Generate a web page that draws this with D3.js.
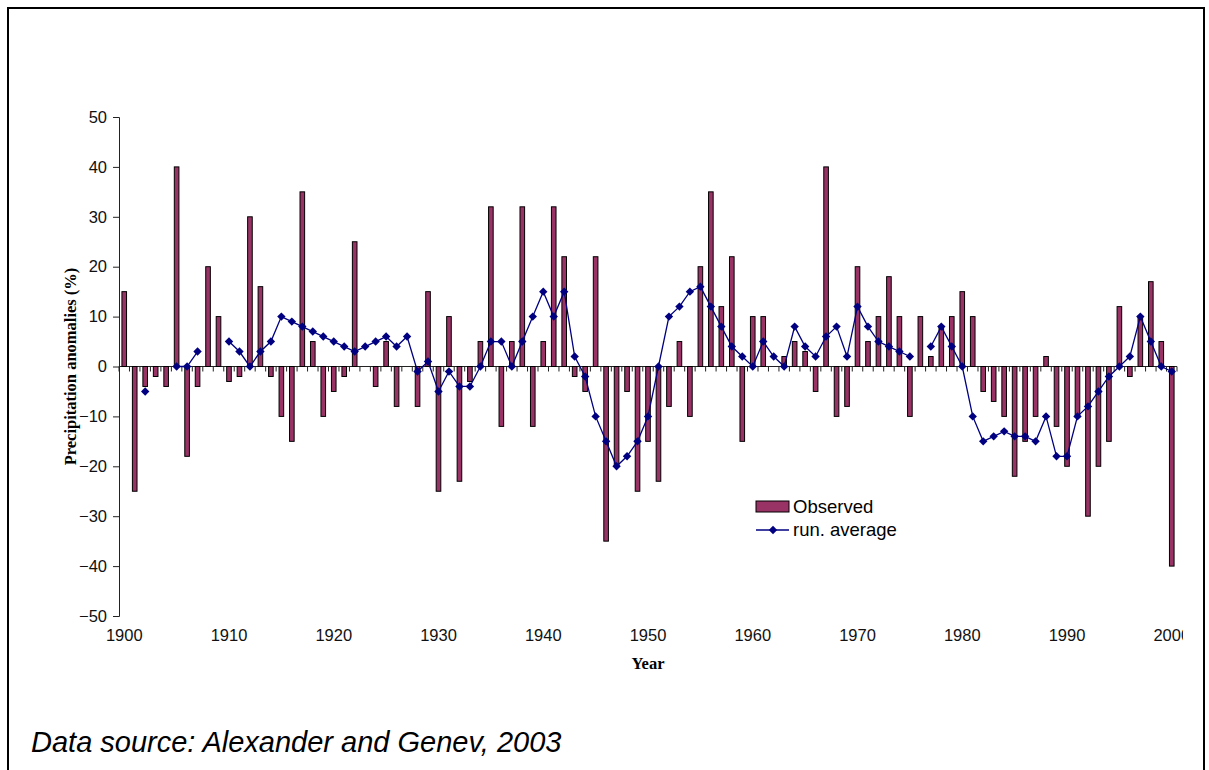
<!DOCTYPE html>
<html>
<head>
<meta charset="utf-8">
<script src="https://cdn.jsdelivr.net/npm/d3@7"></script>
<style>
  body { margin: 0; background: #fff; }
  svg { display: block; }
</style>
</head>
<body>
<script>
let years = d3.range(1900, 2001)

let observed = [
    15, -25, -4, -2, -4, 40, -18, -4, 20, 10,
    -3, -2, 30, 16, -2, -10, -15, 35, 5, -10,
    -5, -2, 25, 0, -4, 5, -8, 0, -8, 15,
    -25, 10, -23, -3, 5, 32, -12, 5, 32, -12,
    5, 32, 22, -2, -5, 22, -35, -20, -5, -25,
    -15, -23, -8, 5, -10, 20, 35, 12, 22, -15,
    10, 10, 0, 2, 5, 3, -5, 40, -10, -8,
    20, 5, 10, 18, 10, -10, 10, 2, 8, 10,
    15, 10, -5, -7, -10, -22, -15, -10, 2, -12,
    -20, -10, -30, -20, -15, 12, -2, 10, 17, 5,
    -40
]

let runAverage = [
    null, null, -5, null, null, 0, 0, 3, null, null,
    5, 3, 0, 3, 5, 10, 9, 8, 7, 6,
    5, 4, 3, 4, 5, 6, 4, 6, -1, 1,
    -5, -1, -4, -4, 0, 5, 5, 0, 5, 10,
    15, 10, 15, 2, -2, -10, -15, -20, -18, -15,
    -10, 0, 10, 12, 15, 16, 12, 8, 4, 2,
    0, 5, 2, 0, 8, 4, 2, 6, 8, 2,
    12, 8, 5, 4, 3, 2, null, 4, 8, 4,
    0, -10, -15, -14, -13, -14, -14, -15, -10, -18,
    -18, -10, -8, -5, -2, 0, 2, 10, 5, 0,
    -1
]

let yTicks = [-50, -40, -30, -20, -10, 0, 10, 20, 30, 40, 50]
let xLabels = [1900, 1910, 1920, 1930, 1940, 1950, 1960, 1970, 1980, 1990, 2000]
let seriesNames = ['Observed', 'run. average']

let width = 1209, height = 770
let barColor = '#993366', lineColor = '#000080'
let sans = 'Arial, "Liberation Sans", sans-serif'
let serif = '"Times New Roman", "Liberation Serif", serif'

let svg = d3.select('body').append('svg')
    .attr('width', width)
    .attr('height', height)

// outer chart frame (bottom edge runs off the page)
svg.append('rect')
    .attr('x', 8)
    .attr('y', 8)
    .attr('width', 1196)
    .attr('height', 800)
    .attr('fill', 'none')
    .attr('stroke', 'black')
    .attr('stroke-width', 2)

let x = d3.scaleBand().domain(years).range([119, 1177]).padding(0)
let y = d3.scaleLinear().domain([-50, 50]).range([616, 117])
let barW = x.bandwidth() * 0.44
let xc = d => x(d) + x.bandwidth() / 2

// y axis
let yAxis = svg.append('g')
    .attr('transform', 'translate(' + x.range()[0] + ',0)')
    .call(d3.axisLeft(y).tickValues(yTicks).tickSize(6).tickPadding(6))
yAxis.select('.domain').attr('stroke', '#222')
yAxis.selectAll('.tick line').attr('stroke', '#222')
yAxis.selectAll('text')
    .attr('font-family', sans)
    .attr('font-size', '16.5px')
    .attr('fill', '#111')

// category axis along zero, small ticks at category boundaries
let zeroY = y(0)
let axisG = svg.append('g')
axisG.append('line')
    .attr('x1', x.range()[0])
    .attr('x2', x.range()[1])
    .attr('y1', zeroY)
    .attr('y2', zeroY)
    .attr('stroke', '#222')
axisG.selectAll('.xtick')
    .data(years.concat([2001]))
    .enter().append('line')
    .attr('class', 'xtick')
    .attr('x1', d => d === 2001 ? x.range()[1] : x(d))
    .attr('x2', d => d === 2001 ? x.range()[1] : x(d))
    .attr('y1', zeroY)
    .attr('y2', zeroY + 5)
    .attr('stroke', '#222')

// year labels at the bottom, clipped at the plot edge like the original
svg.append('clipPath').attr('id', 'labelclip')
    .append('rect').attr('x', 0).attr('y', 600).attr('width', 1183).attr('height', 60)
svg.append('g')
    .attr('clip-path', 'url(#labelclip)')
    .selectAll('text')
    .data(xLabels)
    .enter().append('text')
    .attr('x', d => xc(d))
    .attr('y', 641)
    .attr('text-anchor', 'middle')
    .attr('font-family', sans)
    .attr('font-size', '16.5px')
    .attr('fill', '#111')
    .text(d => d)

// bars
svg.append('g').selectAll('rect')
    .data(years.map((yr, i) => ({year: yr, v: observed[i]})))
    .enter().append('rect')
    .attr('x', d => xc(d.year) - barW / 2)
    .attr('y', d => y(Math.max(0, d.v)))
    .attr('width', barW)
    .attr('height', d => Math.abs(y(d.v) - y(0)))
    .attr('fill', barColor)
    .attr('stroke', 'black')
    .attr('stroke-width', 1)

// running average line with gaps
let avgData = years.map((yr, i) => ({year: yr, v: runAverage[i]}))
let line = d3.line()
    .defined(d => d.v !== null)
    .x(d => xc(d.year))
    .y(d => y(d.v))
svg.append('path')
    .datum(avgData)
    .attr('d', line)
    .attr('fill', 'none')
    .attr('stroke', lineColor)
    .attr('stroke-width', 1.3)

let diamond = 'M0,-4.2L4.2,0L0,4.2L-4.2,0Z'
svg.append('g').selectAll('path')
    .data(avgData.filter(d => d.v !== null))
    .enter().append('path')
    .attr('d', diamond)
    .attr('transform', d => 'translate(' + xc(d.year) + ',' + y(d.v) + ')')
    .attr('fill', lineColor)

// axis titles
svg.append('text')
    .attr('transform', 'translate(76,' + zeroY + ') rotate(-90)')
    .attr('text-anchor', 'middle')
    .attr('font-family', serif)
    .attr('font-weight', 'bold')
    .attr('font-size', '16.5px')
    .text('Precipitation anomalies (%)')

svg.append('text')
    .attr('x', 648)
    .attr('y', 669)
    .attr('text-anchor', 'middle')
    .attr('font-family', serif)
    .attr('font-weight', 'bold')
    .attr('font-size', '16.5px')
    .text('Year')

// legend
let legend = svg.append('g').attr('transform', 'translate(756,0)')
legend.append('rect')
    .attr('x', 0).attr('y', 501)
    .attr('width', 33).attr('height', 11)
    .attr('fill', barColor)
    .attr('stroke', 'black')
legend.append('line')
    .attr('x1', 0).attr('x2', 33)
    .attr('y1', 530).attr('y2', 530)
    .attr('stroke', lineColor)
    .attr('stroke-width', 1.3)
legend.append('path')
    .attr('d', diamond)
    .attr('transform', 'translate(17,530)')
    .attr('fill', lineColor)
legend.selectAll('.lbl')
    .data(seriesNames)
    .enter().append('text')
    .attr('class', 'lbl')
    .attr('x', 37)
    .attr('y', (d, i) => 513 + i * 23)
    .attr('font-family', sans)
    .attr('font-size', '18.5px')
    .text(d => d)

// source note
svg.append('text')
    .attr('x', 31)
    .attr('y', 752)
    .attr('font-family', sans)
    .attr('font-style', 'italic')
    .attr('font-size', '29px')
    .text('Data source: Alexander and Genev, 2003')
</script>
</body>
</html>
